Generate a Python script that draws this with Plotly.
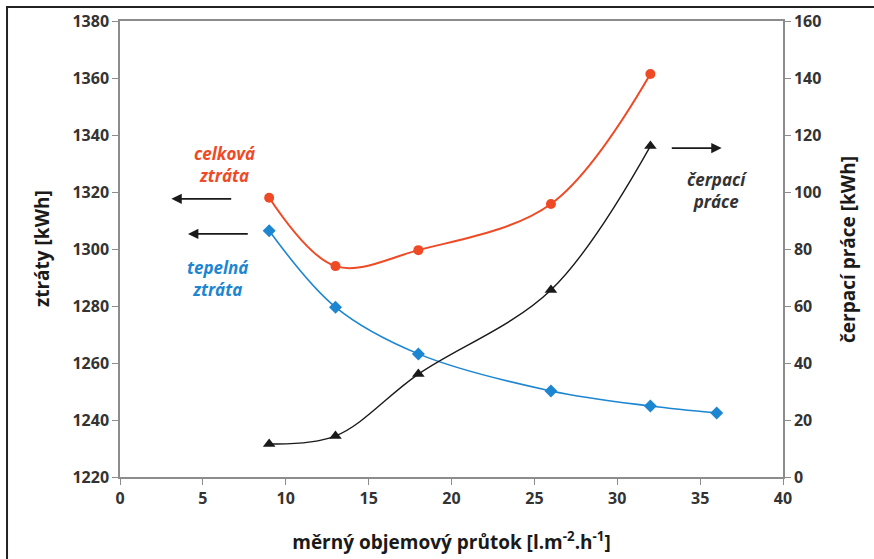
import plotly.graph_objects as go

# measured specific volume flow [l.m-2.h-1]
flow_total = [9, 13, 18, 26, 32]
flow_heat = [9, 13, 18, 26, 32, 36]
flow_pump = [9, 13, 18, 26, 32]

# losses [kWh] (left axis)
total_loss = [1318.0, 1294.0, 1299.6, 1315.8, 1361.4]
heat_loss = [1306.4, 1279.6, 1263.2, 1250.2, 1244.9, 1242.5]

# pumping work [kWh] (right axis)
pump_work = [11.6, 14.4, 36.1, 65.6, 116.1]

x_ticks = [0, 5, 10, 15, 20, 25, 30, 35, 40]
left_ticks = [1220, 1240, 1260, 1280, 1300, 1320, 1340, 1360, 1380]
right_ticks = [0, 20, 40, 60, 80, 100, 120, 140, 160]

RED = "#EF4A26"
BLUE = "#1C86D1"
DARK = "#1A1A1A"
AXIS = "#8C8C8C"
TXT = "#333333"
FONT = "Open Sans"

fig = go.Figure()

fig.add_trace(go.Scatter(
    x=flow_total, y=total_loss, mode="lines+markers",
    line=dict(color=RED, width=2, shape="spline", smoothing=1.0),
    marker=dict(symbol="circle", size=10, color=RED),
    showlegend=False, cliponaxis=False))

fig.add_trace(go.Scatter(
    x=flow_heat, y=heat_loss, mode="lines+markers",
    line=dict(color=BLUE, width=1.6, shape="spline", smoothing=1.0),
    marker=dict(symbol="diamond", size=10, color=BLUE),
    showlegend=False, cliponaxis=False))

fig.add_trace(go.Scatter(
    x=flow_pump, y=pump_work, mode="lines+markers", yaxis="y2",
    line=dict(color=DARK, width=1.4, shape="spline", smoothing=1.0),
    marker=dict(symbol="triangle-up", size=11, color=DARK),
    showlegend=False, cliponaxis=False))

tickfont = dict(family=FONT, size=16, color=TXT, weight="bold")
titlefont = dict(family=FONT, size=19, color=DARK)

fig.update_layout(
    width=874, height=559,
    margin=dict(l=120, r=91, t=21, b=82),
    paper_bgcolor="white", plot_bgcolor="white",
    font=dict(family=FONT),
    xaxis=dict(
        range=[0, 40], tickvals=x_ticks, ticks="outside", ticklen=6,
        tickcolor=AXIS, showgrid=False, zeroline=False,
        showline=True, linecolor=AXIS, linewidth=1.5, mirror=True,
        tickfont=tickfont, automargin=False,
        title=dict(text="<b>měrný objemový průtok [l.m<sup>-2</sup>.h<sup>-1</sup>]</b>",
                   font=titlefont, standoff=28),
    ),
    yaxis=dict(
        range=[1220, 1380], tickvals=left_ticks, ticks="outside", ticklen=6,
        tickcolor=AXIS, showgrid=False, zeroline=False,
        showline=True, linecolor=AXIS, linewidth=1.5,
        tickfont=tickfont, automargin=False,
    ),
    yaxis2=dict(
        range=[0, 160], tickvals=right_ticks, ticks="outside", ticklen=6,
        tickcolor=AXIS, showgrid=False, zeroline=False,
        showline=True, linecolor=AXIS, linewidth=1.5,
        overlaying="y", side="right",
        tickfont=tickfont, automargin=False,
    ),
)

# vertical axis titles
fig.add_annotation(x=-0.1176, y=0.5, xref="paper", yref="paper",
                   text="<b>ztráty [kWh]</b>", textangle=-90, showarrow=False,
                   font=titlefont, xanchor="center", yanchor="middle")
fig.add_annotation(x=1.098, y=0.5, xref="paper", yref="paper",
                   text="<b>čerpací práce [kWh]</b>", textangle=-90, showarrow=False,
                   font=titlefont, xanchor="center", yanchor="middle")

# outer frame
fig.add_shape(type="rect", xref="paper", yref="paper",
              x0=-0.1704, x1=1.2, y0=-0.3, y1=1.0307,
              line=dict(color="#222222", width=2), layer="below")

# series labels
lab = dict(family=FONT, size=17)
fig.add_annotation(x=6.3, y=1329.5, xref="x", yref="y", showarrow=False,
                   text="<b><i>celková<br>ztráta</i></b>",
                   font=dict(lab, color=RED), align="center")
fig.add_annotation(x=5.9, y=1289.8, xref="x", yref="y", showarrow=False,
                   text="<b><i>tepelná<br>ztráta</i></b>",
                   font=dict(lab, color=BLUE), align="center")
fig.add_annotation(x=36.0, y=100.5, xref="x", yref="y2", showarrow=False,
                   text="<b><i>čerpací<br>práce</i></b>",
                   font=dict(lab, color="#333333"), align="center")

# arrows pointing to the relevant axis
arrow = dict(showarrow=True, arrowhead=2, arrowsize=1.3, arrowwidth=1.6,
             arrowcolor=DARK, text="")
fig.add_annotation(x=3.1, y=1317.6, ax=6.8, ay=1317.6, xref="x", yref="y",
                   axref="x", ayref="y", **arrow)
fig.add_annotation(x=4.1, y=1305.3, ax=7.8, ay=1305.3, xref="x", yref="y",
                   axref="x", ayref="y", **arrow)
fig.add_annotation(x=36.3, y=115.4, ax=33.2, ay=115.4, xref="x", yref="y2",
                   axref="x", ayref="y2", **arrow)

fig.write_html("out.html")
